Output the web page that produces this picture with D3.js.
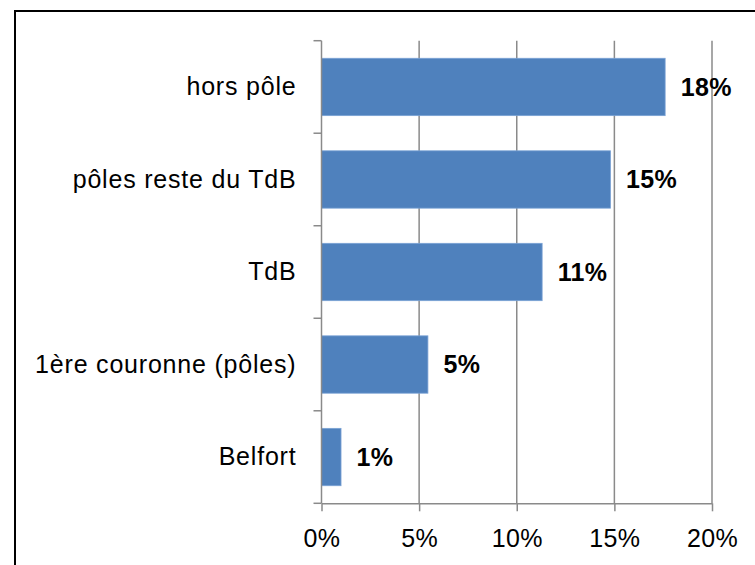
<!DOCTYPE html>
<html>
<head>
<meta charset="utf-8">
<script src="https://cdn.jsdelivr.net/npm/d3@7"></script>
<style>
  body { margin: 0; background: #fff; }
  svg text { font-family: "Liberation Sans", Arial, Helvetica, sans-serif; }
</style>
</head>
<body>
<svg width="755" height="565"></svg>
<script>
const categories = ["hors pôle", "pôles reste du TdB", "TdB", "1ère couronne (pôles)", "Belfort"];
const shares = [0.176, 0.148, 0.113, 0.0545, 0.01];
const xTicks = [0, 0.05, 0.10, 0.15, 0.20];

const data = categories.map((c, i) => ({cat: c, value: shares[i]}));

const svg = d3.select("svg");
const plotLeft = 321.5, plotRight = 712, plotTop = 40.7, plotBottom = 503.3;
const gridColor = "#8a8a8a";
const fmt = d3.format(".0%");

// outer frame (runs off the page on the right and bottom)
svg.append("rect")
  .attr("x", 15).attr("y", 11)
  .attr("width", 800).attr("height", 600)
  .attr("fill", "none")
  .attr("stroke", "#000")
  .attr("stroke-width", 2);

const x = d3.scaleLinear().domain([0, 0.2]).range([plotLeft, plotRight]);
const y = d3.scaleBand().domain(categories).range([plotTop, plotBottom])
  .paddingInner(0.38).paddingOuter(0.19);

// vertical gridlines
svg.append("g").selectAll("line")
  .data(xTicks.slice(1))
  .enter().append("line")
  .attr("x1", d => x(d)).attr("x2", d => x(d))
  .attr("y1", plotTop).attr("y2", plotBottom)
  .attr("stroke", gridColor).attr("stroke-width", 1.5);

// bars
svg.append("g").selectAll("rect")
  .data(data)
  .enter().append("rect")
  .attr("x", x(0))
  .attr("y", d => y(d.cat))
  .attr("width", d => x(d.value) - x(0))
  .attr("height", y.bandwidth())
  .attr("fill", "#4f81bd")
  .attr("stroke", "#7aa2d4")
  .attr("stroke-width", 0.8);

// x axis
const xAxis = svg.append("g")
  .attr("transform", "translate(0," + plotBottom + ")")
  .call(d3.axisBottom(x).tickValues(xTicks).tickFormat(fmt).tickSize(8).tickSizeOuter(0).tickPadding(10));
xAxis.select(".domain").attr("stroke", gridColor).attr("stroke-width", 1.5);
xAxis.selectAll(".tick line").attr("stroke", gridColor).attr("stroke-width", 1.5);
xAxis.selectAll(".tick text")
  .attr("y", 43.6).attr("dy", null)
  .attr("fill", "#000")
  .style("font-size", "25px")
  .style("letter-spacing", "0.4px");

// y axis: line plus ticks at band boundaries
const step = y.step();
const bounds = d3.range(categories.length + 1).map(i => plotTop + i * step);
svg.append("line")
  .attr("x1", plotLeft).attr("x2", plotLeft)
  .attr("y1", plotTop).attr("y2", plotBottom)
  .attr("stroke", gridColor).attr("stroke-width", 1.5);
svg.append("g").selectAll("line")
  .data(bounds)
  .enter().append("line")
  .attr("x1", plotLeft - 8).attr("x2", plotLeft)
  .attr("y1", d => d).attr("y2", d => d)
  .attr("stroke", gridColor).attr("stroke-width", 1.5);

// category labels
svg.append("g").selectAll("text")
  .data(data)
  .enter().append("text")
  .attr("x", plotLeft - 25)
  .attr("y", d => y(d.cat) + y.bandwidth() / 2)
  .attr("dy", "0.33em")
  .attr("text-anchor", "end")
  .style("font-size", "25px")
  .style("letter-spacing", "0.8px")
  .text(d => d.cat);

// value labels
svg.append("g").selectAll("text")
  .data(data)
  .enter().append("text")
  .attr("x", d => x(d.value) + 15.5)
  .attr("y", d => y(d.cat) + y.bandwidth() / 2)
  .attr("dy", "0.35em")
  .style("font-size", "25px")
  .style("font-weight", "bold")
  .style("letter-spacing", "0.4px")
  .text(d => fmt(d.value));
</script>
</body>
</html>
